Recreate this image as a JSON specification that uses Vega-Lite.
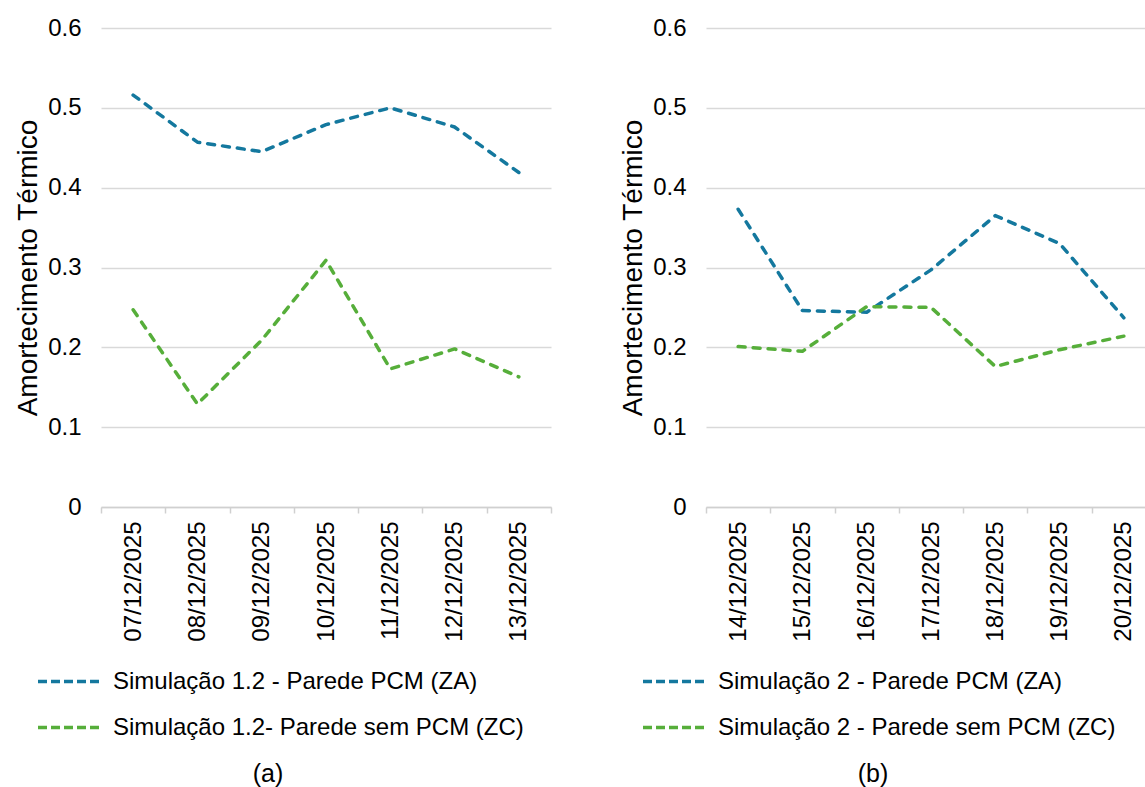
{
  "$schema": "https://vega.github.io/schema/vega-lite/v6.json",
  "padding": {"left": 14, "top": 16, "right": 0, "bottom": 0},
  "background": "white",
  "config": {
    "view": {"stroke": null},
    "font": "Liberation Sans",
    "axis": {"labelFont": "Liberation Sans", "titleFont": "Liberation Sans", "labelColor": "#000000", "titleColor": "#000000", "titleFontWeight": "normal"},
    "legend": {"labelFont": "Liberation Sans", "labelColor": "#000000"},
    "title": {"font": "Liberation Sans", "color": "#000000", "fontWeight": "normal"}
  },
  "datasets": {
    "amort": [
      {"painel": "a", "data": "07/12/2025", "serie": "Simulação 1.2 - Parede PCM (ZA)", "valor": 0.516},
      {"painel": "a", "data": "08/12/2025", "serie": "Simulação 1.2 - Parede PCM (ZA)", "valor": 0.457},
      {"painel": "a", "data": "09/12/2025", "serie": "Simulação 1.2 - Parede PCM (ZA)", "valor": 0.445},
      {"painel": "a", "data": "10/12/2025", "serie": "Simulação 1.2 - Parede PCM (ZA)", "valor": 0.479},
      {"painel": "a", "data": "11/12/2025", "serie": "Simulação 1.2 - Parede PCM (ZA)", "valor": 0.500},
      {"painel": "a", "data": "12/12/2025", "serie": "Simulação 1.2 - Parede PCM (ZA)", "valor": 0.476},
      {"painel": "a", "data": "13/12/2025", "serie": "Simulação 1.2 - Parede PCM (ZA)", "valor": 0.419},
      {"painel": "a", "data": "07/12/2025", "serie": "Simulação 1.2- Parede sem PCM (ZC)", "valor": 0.247},
      {"painel": "a", "data": "08/12/2025", "serie": "Simulação 1.2- Parede sem PCM (ZC)", "valor": 0.129},
      {"painel": "a", "data": "09/12/2025", "serie": "Simulação 1.2- Parede sem PCM (ZC)", "valor": 0.209},
      {"painel": "a", "data": "10/12/2025", "serie": "Simulação 1.2- Parede sem PCM (ZC)", "valor": 0.309},
      {"painel": "a", "data": "11/12/2025", "serie": "Simulação 1.2- Parede sem PCM (ZC)", "valor": 0.173},
      {"painel": "a", "data": "12/12/2025", "serie": "Simulação 1.2- Parede sem PCM (ZC)", "valor": 0.198},
      {"painel": "a", "data": "13/12/2025", "serie": "Simulação 1.2- Parede sem PCM (ZC)", "valor": 0.163},
      {"painel": "b", "data": "14/12/2025", "serie": "Simulação 2 - Parede PCM (ZA)", "valor": 0.373},
      {"painel": "b", "data": "15/12/2025", "serie": "Simulação 2 - Parede PCM (ZA)", "valor": 0.246},
      {"painel": "b", "data": "16/12/2025", "serie": "Simulação 2 - Parede PCM (ZA)", "valor": 0.244},
      {"painel": "b", "data": "17/12/2025", "serie": "Simulação 2 - Parede PCM (ZA)", "valor": 0.297},
      {"painel": "b", "data": "18/12/2025", "serie": "Simulação 2 - Parede PCM (ZA)", "valor": 0.365},
      {"painel": "b", "data": "19/12/2025", "serie": "Simulação 2 - Parede PCM (ZA)", "valor": 0.330},
      {"painel": "b", "data": "20/12/2025", "serie": "Simulação 2 - Parede PCM (ZA)", "valor": 0.237},
      {"painel": "b", "data": "14/12/2025", "serie": "Simulação 2 - Parede sem PCM (ZC)", "valor": 0.201},
      {"painel": "b", "data": "15/12/2025", "serie": "Simulação 2 - Parede sem PCM (ZC)", "valor": 0.195},
      {"painel": "b", "data": "16/12/2025", "serie": "Simulação 2 - Parede sem PCM (ZC)", "valor": 0.251},
      {"painel": "b", "data": "17/12/2025", "serie": "Simulação 2 - Parede sem PCM (ZC)", "valor": 0.250},
      {"painel": "b", "data": "18/12/2025", "serie": "Simulação 2 - Parede sem PCM (ZC)", "valor": 0.176},
      {"painel": "b", "data": "19/12/2025", "serie": "Simulação 2 - Parede sem PCM (ZC)", "valor": 0.197},
      {"painel": "b", "data": "20/12/2025", "serie": "Simulação 2 - Parede sem PCM (ZC)", "valor": 0.214}
    ]
  },
  "spacing": 67,
  "resolve": {"scale": {"color": "independent", "x": "independent"}, "legend": {"color": "independent"}},
  "hconcat": [
    {
      "width": 450,
      "height": 479,
      "data": {"name": "amort"},
      "transform": [{"filter": "datum.painel === 'a'"}],
      "title": {"text": "(a)", "orient": "bottom", "anchor": "middle", "frame": "group", "dx": -58, "offset": 22, "fontSize": 25},
      "mark": {"type": "line", "strokeWidth": 3.5, "strokeDash": [7, 8], "strokeCap": "round", "strokeJoin": "round"},
      "encoding": {
        "x": {"field": "data", "type": "ordinal", "sort": null, "scale": {"type": "band", "paddingInner": 0, "paddingOuter": 0},
              "axis": {"title": null, "labelAngle": -90, "labelFontSize": 24, "labelPadding": 8, "tickSize": 6, "tickColor": "#d0d0d0", "tickWidth": 1.5, "domainColor": "#d0d0d0", "domainWidth": 1.5, "tickBand": "extent", "grid": false}},
        "y": {"field": "valor", "type": "quantitative", "scale": {"domain": [0, 0.6], "nice": false},
              "axis": {"title": "Amortecimento Térmico", "titleFontSize": 28, "titlePadding": 5, "values": [0, 0.1, 0.2, 0.3, 0.4, 0.5, 0.6], "format": ".1~f", "labelFontSize": 24, "labelPadding": 20, "ticks": false, "tickSize": 0, "domain": false, "grid": true, "gridColor": "#d9d9d9", "gridWidth": 1.5}},
        "color": {"field": "serie", "type": "nominal", "sort": null,
                  "scale": {"range": ["#14789e", "#56ae3a"]},
                  "legend": {"title": null, "orient": "none", "legendX": -65, "legendY": 620, "direction": "vertical", "labelFontSize": 24, "labelLimit": 0, "labelOffset": 10, "symbolType": "stroke", "symbolSize": 3969, "symbolStrokeWidth": 3.5, "symbolDash": [9, 4], "rowPadding": -23}}
      }
    },
    {
      "width": 450,
      "height": 479,
      "data": {"name": "amort"},
      "transform": [{"filter": "datum.painel === 'b'"}],
      "title": {"text": "(b)", "orient": "bottom", "anchor": "middle", "frame": "group", "dx": -58, "offset": 22, "fontSize": 25},
      "mark": {"type": "line", "strokeWidth": 3.5, "strokeDash": [7, 8], "strokeCap": "round", "strokeJoin": "round"},
      "encoding": {
        "x": {"field": "data", "type": "ordinal", "sort": null, "scale": {"type": "band", "paddingInner": 0, "paddingOuter": 0},
              "axis": {"title": null, "labelAngle": -90, "labelFontSize": 24, "labelPadding": 8, "tickSize": 6, "tickColor": "#d0d0d0", "tickWidth": 1.5, "domainColor": "#d0d0d0", "domainWidth": 1.5, "tickBand": "extent", "grid": false}},
        "y": {"field": "valor", "type": "quantitative", "scale": {"domain": [0, 0.6], "nice": false},
              "axis": {"title": "Amortecimento Térmico", "titleFontSize": 28, "titlePadding": 5, "values": [0, 0.1, 0.2, 0.3, 0.4, 0.5, 0.6], "format": ".1~f", "labelFontSize": 24, "labelPadding": 20, "ticks": false, "tickSize": 0, "domain": false, "grid": true, "gridColor": "#d9d9d9", "gridWidth": 1.5}},
        "color": {"field": "serie", "type": "nominal", "sort": null,
                  "scale": {"range": ["#14789e", "#56ae3a"]},
                  "legend": {"title": null, "orient": "none", "legendX": -65, "legendY": 620, "direction": "vertical", "labelFontSize": 24, "labelLimit": 0, "labelOffset": 10, "symbolType": "stroke", "symbolSize": 3969, "symbolStrokeWidth": 3.5, "symbolDash": [9, 4], "rowPadding": -23}}
      }
    }
  ]
}
